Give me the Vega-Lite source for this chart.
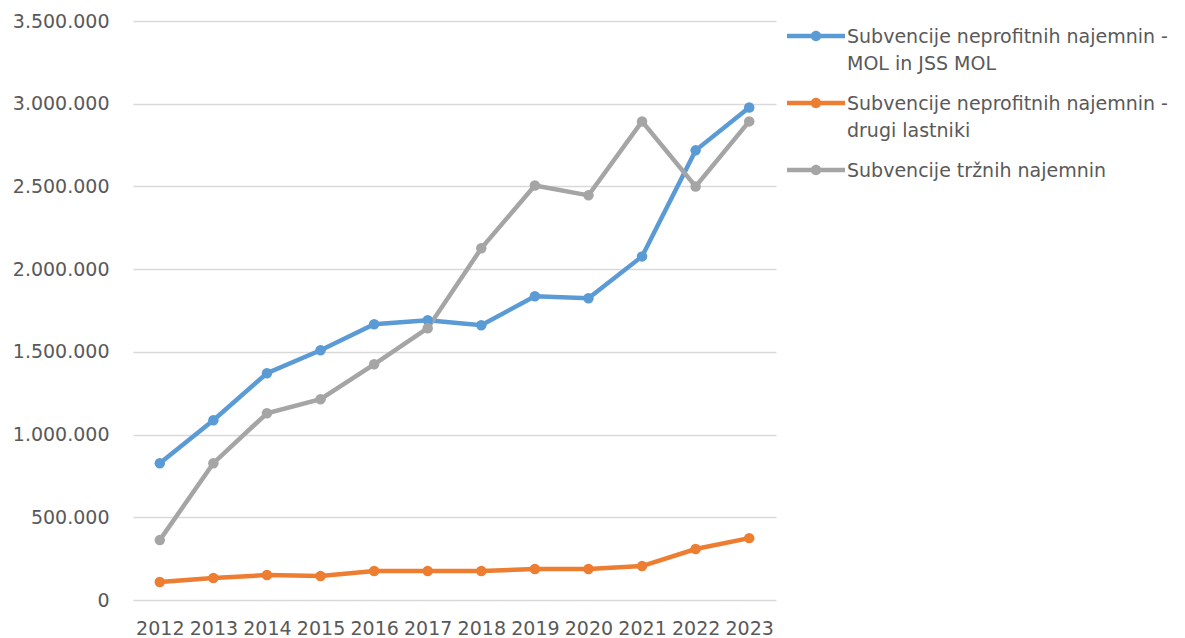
{
  "$schema": "https://vega.github.io/schema/vega-lite/v6.json",
  "width": 643,
  "height": 579,
  "autosize": "none",
  "padding": {"left": 133, "top": 21, "right": 409, "bottom": 38},
  "background": "white",
  "config": {
    "locale": {"number": {"decimal": ",", "thousands": ".", "grouping": [3], "currency": ["", " €"]}},
    "view": {"stroke": null},
    "font": "DejaVu Sans"
  },
  "data": {"values": [
    {"year": "2012", "s": "A", "v": 827000}, {"year": "2013", "s": "A", "v": 1087000}, {"year": "2014", "s": "A", "v": 1371000}, {"year": "2015", "s": "A", "v": 1510000}, {"year": "2016", "s": "A", "v": 1667000}, {"year": "2017", "s": "A", "v": 1691000}, {"year": "2018", "s": "A", "v": 1661000}, {"year": "2019", "s": "A", "v": 1836000}, {"year": "2020", "s": "A", "v": 1824000}, {"year": "2021", "s": "A", "v": 2077000}, {"year": "2022", "s": "A", "v": 2718000}, {"year": "2023", "s": "A", "v": 2977000},
    {"year": "2012", "s": "B", "v": 109000}, {"year": "2013", "s": "B", "v": 133000}, {"year": "2014", "s": "B", "v": 151000}, {"year": "2015", "s": "B", "v": 145000}, {"year": "2016", "s": "B", "v": 175000}, {"year": "2017", "s": "B", "v": 175000}, {"year": "2018", "s": "B", "v": 175000}, {"year": "2019", "s": "B", "v": 187000}, {"year": "2020", "s": "B", "v": 187000}, {"year": "2021", "s": "B", "v": 205000}, {"year": "2022", "s": "B", "v": 308000}, {"year": "2023", "s": "B", "v": 374000},
    {"year": "2012", "s": "C", "v": 362000}, {"year": "2013", "s": "C", "v": 827000}, {"year": "2014", "s": "C", "v": 1129000}, {"year": "2015", "s": "C", "v": 1214000}, {"year": "2016", "s": "C", "v": 1425000}, {"year": "2017", "s": "C", "v": 1643000}, {"year": "2018", "s": "C", "v": 2126000}, {"year": "2019", "s": "C", "v": 2506000}, {"year": "2020", "s": "C", "v": 2446000}, {"year": "2021", "s": "C", "v": 2893000}, {"year": "2022", "s": "C", "v": 2500000}, {"year": "2023", "s": "C", "v": 2893000}
  ]},
  "encoding": {
    "x": {"field": "year", "type": "ordinal", "scale": {"type": "point", "padding": 0.5},
      "axis": {"title": null, "labelAngle": 0, "ticks": false, "domain": false, "grid": false, "labelPadding": 19, "labelFontSize": 19, "labelColor": "#595959", "labelOverlap": false}},
    "y": {"field": "v", "type": "quantitative", "scale": {"domain": [0, 3500000], "nice": false},
      "axis": {"title": null, "values": [0, 500000, 1000000, 1500000, 2000000, 2500000, 3000000, 3500000], "format": ",d", "ticks": false, "domain": false, "labelPadding": 24, "labelFontSize": 19, "labelColor": "#595959", "labelOverlap": false, "gridColor": "#D9D9D9", "gridWidth": 1.3}},
    "color": {"field": "s", "type": "nominal",
      "scale": {"domain": ["A", "B", "C"], "range": ["#5B9BD5", "#ED7D31", "#A5A5A5"]},
      "legend": {"title": null, "orient": "none", "legendX": 654, "legendY": -14,
        "labelExpr": "datum.label == 'A' ? ['Subvencije neprofitnih najemnin -', 'MOL in JSS MOL'] : datum.label == 'B' ? ['Subvencije neprofitnih najemnin -', 'drugi lastniki'] : 'Subvencije tržnih najemnin'",
        "labelFontSize": 19, "labelColor": "#595959", "labelLimit": 400, "labelOffset": 2,
        "symbolType": "M-1,-0.08L1,-0.08L1,0.08L-1,0.08Z M0.18,0 A0.18,0.18 0 1,1 -0.18,0 A0.18,0.18 0 1,1 0.18,0Z",
        "symbolSize": 3364, "symbolStrokeWidth": 0, "rowPadding": 0,
        "encode": {"labels": {"update": {"baseline": {"value": "alphabetic"}, "dy": {"value": 7}, "lineHeight": {"value": 27}}}}
      }
    }
  },
  "layer": [
    {"mark": {"type": "line", "strokeWidth": 4.5}},
    {"mark": {"type": "point", "filled": true, "opacity": 1, "size": 110}}
  ]
}
